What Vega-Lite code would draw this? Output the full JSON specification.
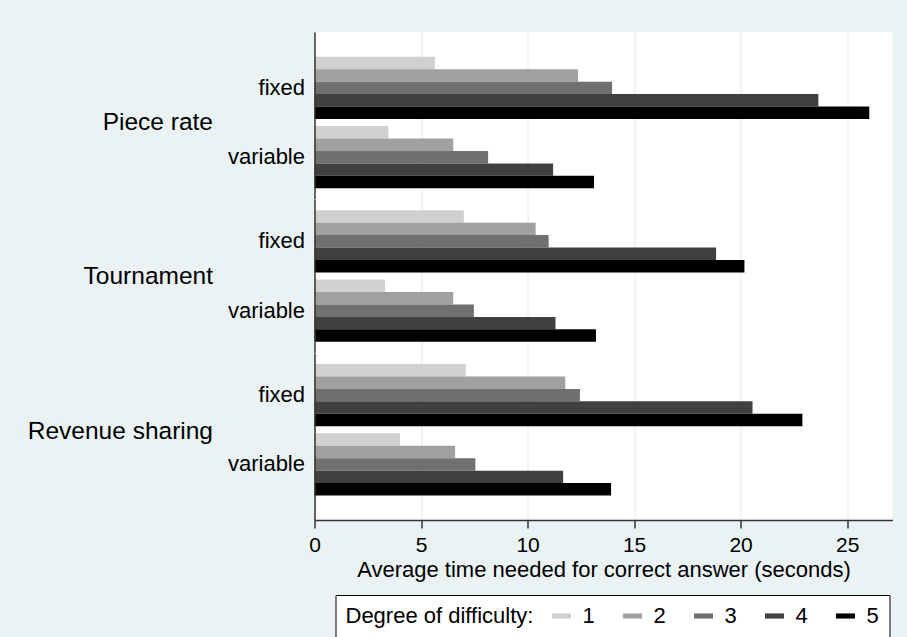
{
  "$schema": "https://vega.github.io/schema/vega-lite/v6.json",
  "background": "#EAF2F3",
  "padding": {"left": 26.5, "top": 32, "right": 14, "bottom": 0},
  "config": {
    "font": "Liberation Sans",
    "view": {"stroke": null, "fill": "white"},
    "concat": {"spacing": 0},
    "axis": {"labelColor": "black", "titleColor": "black", "titleFontWeight": "normal", "labelFont": "Liberation Sans", "titleFont": "Liberation Sans"},
    "legend": {"labelFont": "Liberation Sans", "titleFont": "Liberation Sans"}
  },
  "data": {
    "values": [
      {"treatment": "Piece rate", "pay": "fixed", "difficulty": 1, "time": 5.65},
      {"treatment": "Piece rate", "pay": "fixed", "difficulty": 2, "time": 12.37},
      {"treatment": "Piece rate", "pay": "fixed", "difficulty": 3, "time": 13.97},
      {"treatment": "Piece rate", "pay": "fixed", "difficulty": 4, "time": 23.65},
      {"treatment": "Piece rate", "pay": "fixed", "difficulty": 5, "time": 26.04},
      {"treatment": "Piece rate", "pay": "variable", "difficulty": 1, "time": 3.47},
      {"treatment": "Piece rate", "pay": "variable", "difficulty": 2, "time": 6.51},
      {"treatment": "Piece rate", "pay": "variable", "difficulty": 3, "time": 8.15},
      {"treatment": "Piece rate", "pay": "variable", "difficulty": 4, "time": 11.2},
      {"treatment": "Piece rate", "pay": "variable", "difficulty": 5, "time": 13.12},
      {"treatment": "Tournament", "pay": "fixed", "difficulty": 1, "time": 7.01},
      {"treatment": "Tournament", "pay": "fixed", "difficulty": 2, "time": 10.38},
      {"treatment": "Tournament", "pay": "fixed", "difficulty": 3, "time": 10.99},
      {"treatment": "Tournament", "pay": "fixed", "difficulty": 4, "time": 18.85},
      {"treatment": "Tournament", "pay": "fixed", "difficulty": 5, "time": 20.18},
      {"treatment": "Tournament", "pay": "variable", "difficulty": 1, "time": 3.31},
      {"treatment": "Tournament", "pay": "variable", "difficulty": 2, "time": 6.51},
      {"treatment": "Tournament", "pay": "variable", "difficulty": 3, "time": 7.48},
      {"treatment": "Tournament", "pay": "variable", "difficulty": 4, "time": 11.31},
      {"treatment": "Tournament", "pay": "variable", "difficulty": 5, "time": 13.21},
      {"treatment": "Revenue sharing", "pay": "fixed", "difficulty": 1, "time": 7.1},
      {"treatment": "Revenue sharing", "pay": "fixed", "difficulty": 2, "time": 11.77},
      {"treatment": "Revenue sharing", "pay": "fixed", "difficulty": 3, "time": 12.46},
      {"treatment": "Revenue sharing", "pay": "fixed", "difficulty": 4, "time": 20.56},
      {"treatment": "Revenue sharing", "pay": "fixed", "difficulty": 5, "time": 22.9},
      {"treatment": "Revenue sharing", "pay": "variable", "difficulty": 1, "time": 4.01},
      {"treatment": "Revenue sharing", "pay": "variable", "difficulty": 2, "time": 6.6},
      {"treatment": "Revenue sharing", "pay": "variable", "difficulty": 3, "time": 7.55},
      {"treatment": "Revenue sharing", "pay": "variable", "difficulty": 4, "time": 11.67},
      {"treatment": "Revenue sharing", "pay": "variable", "difficulty": 5, "time": 13.92}
    ]
  },
  "spacing": 0,
  "resolve": {"scale": {"y": "independent", "yOffset": "independent", "x": "shared", "color": "shared"}},
  "vconcat": [
    {
      "width": 578,
      "height": 167,
      "transform": [{"filter": "datum.treatment === 'Piece rate'"}],
      "mark": {"type": "bar"},
      "encoding": {
        "x": {"field": "time", "type": "quantitative", "scale": {"domain": [0, 27.13], "nice": false},
          "axis": {"values": [5, 10, 15, 20, 25], "labels": false, "ticks": false, "domain": false, "title": null, "grid": true, "gridColor": "#EAF2F3", "gridWidth": 1.5}},
        "y": {"field": "pay", "type": "nominal", "sort": ["fixed", "variable"],
          "scale": {"paddingInner": 0.101, "paddingOuter": 0.2554, "align": 0.698},
          "axis": {"title": "Piece rate", "titleAngle": 0, "titleAlign": "right", "titleBaseline": "middle", "titleX": -102, "titleY": 90.35, "titleFontSize": 24.5,
            "labelFontSize": 22, "labelPadding": 10, "ticks": false, "tickSize": 0, "domainColor": "#333333", "domainWidth": 1.5, "zindex": 1}},
        "yOffset": {"field": "difficulty", "type": "nominal", "scale": {"paddingInner": 0, "paddingOuter": 0}},
        "color": {"field": "difficulty", "type": "nominal",
          "scale": {"domain": [1, 2, 3, 4, 5], "range": ["#d0d0d0", "#a0a0a0", "#707070", "#404040", "#000000"]},
          "legend": {"orient": "none", "legendX": 21, "legendY": 563, "direction": "horizontal", "title": "Degree of difficulty:", "titleOrient": "left", "titleFontSize": 22, "titleFontWeight": "normal", "titleColor": "black", "titlePadding": 17, "titleBaseline": "middle", "titleLimit": 400,
            "labelFontSize": 22, "labelColor": "black", "symbolType": "M-1,-0.27H1V0.27H-1Z", "symbolSize": 361, "symbolStrokeWidth": 0, "labelOffset": 10, "columnPadding": 26, "padding": 10, "strokeColor": "black", "fillColor": "white"}}
      }
    },
    {
      "width": 578,
      "height": 154,
      "transform": [{"filter": "datum.treatment === 'Tournament'"}],
      "mark": {"type": "bar"},
      "encoding": {
        "x": {"field": "time", "type": "quantitative", "scale": {"domain": [0, 27.13], "nice": false},
          "axis": {"values": [5, 10, 15, 20, 25], "labels": false, "ticks": false, "domain": false, "title": null, "grid": true, "gridColor": "#EAF2F3", "gridWidth": 1.5}},
        "y": {"field": "pay", "type": "nominal", "sort": ["fixed", "variable"],
          "scale": {"paddingInner": 0.101, "paddingOuter": 0.1616, "align": 0.5},
          "axis": {"title": "Tournament", "titleAngle": 0, "titleAlign": "right", "titleBaseline": "middle", "titleX": -102, "titleY": 77, "titleFontSize": 24.5,
            "labelFontSize": 22, "labelPadding": 10, "ticks": false, "tickSize": 0, "domainColor": "#333333", "domainWidth": 1.5, "zindex": 1}},
        "yOffset": {"field": "difficulty", "type": "nominal", "scale": {"paddingInner": 0, "paddingOuter": 0}},
        "color": {"field": "difficulty", "type": "nominal",
          "scale": {"domain": [1, 2, 3, 4, 5], "range": ["#d0d0d0", "#a0a0a0", "#707070", "#404040", "#000000"]}}
      }
    },
    {
      "width": 578,
      "height": 167,
      "transform": [{"filter": "datum.treatment === 'Revenue sharing'"}],
      "mark": {"type": "bar"},
      "encoding": {
        "x": {"field": "time", "type": "quantitative", "scale": {"domain": [0, 27.13], "nice": false},
          "axis": {"values": [0, 5, 10, 15, 20, 25], "grid": true, "gridColor": "#EAF2F3", "gridWidth": 1.5, "ticks": true, "tickSize": 8, "tickColor": "#333333", "tickWidth": 1.5, "domainColor": "#333333", "domainWidth": 1.5,
            "labelFontSize": 21, "labelPadding": 6, "labelFlush": false,
            "title": "Average time needed for correct answer (seconds)", "titleFontSize": 22, "titleBaseline": "top", "titleY": 39}},
        "y": {"field": "pay", "type": "nominal", "sort": ["fixed", "variable"],
          "scale": {"paddingInner": 0.101, "paddingOuter": 0.2554, "align": 0.31},
          "axis": {"title": "Revenue sharing", "titleAngle": 0, "titleAlign": "right", "titleBaseline": "middle", "titleX": -102, "titleY": 78, "titleFontSize": 24.5,
            "labelFontSize": 22, "labelPadding": 10, "ticks": false, "tickSize": 0, "domainColor": "#333333", "domainWidth": 1.5, "zindex": 1}},
        "yOffset": {"field": "difficulty", "type": "nominal", "scale": {"paddingInner": 0, "paddingOuter": 0}},
        "color": {"field": "difficulty", "type": "nominal",
          "scale": {"domain": [1, 2, 3, 4, 5], "range": ["#d0d0d0", "#a0a0a0", "#707070", "#404040", "#000000"]}}
      }
    }
  ]
}
